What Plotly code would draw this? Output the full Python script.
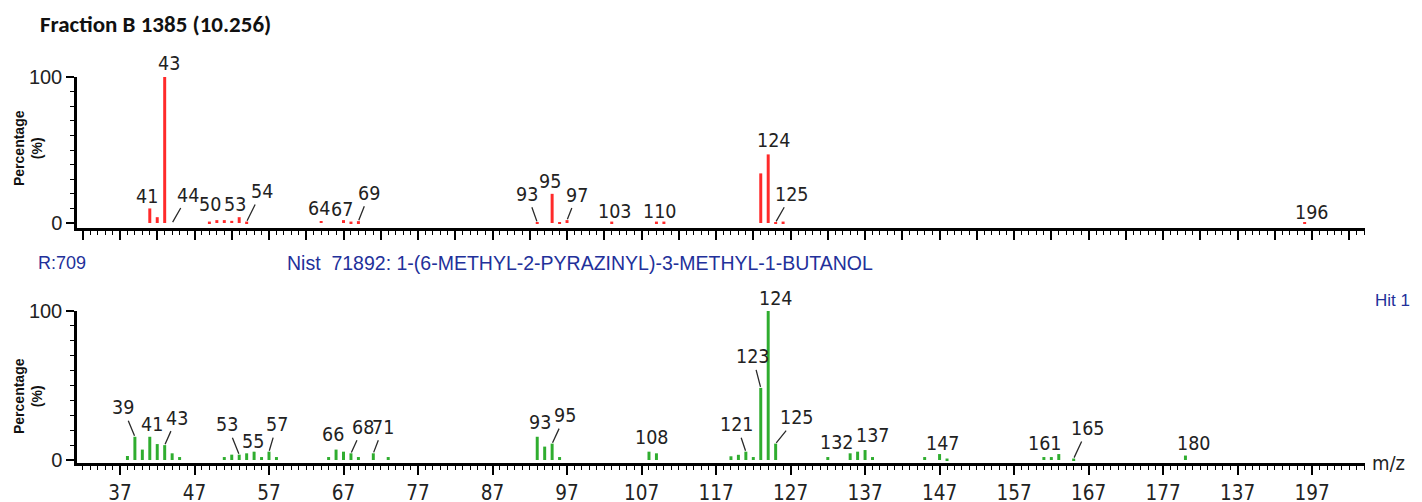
import plotly.graph_objects as go

# ---------------- data ----------------
title_text = "Fraction B 1385 (10.256)"
hit_info = "R:709"
lib_text = "Nist  71892: 1-(6-METHYL-2-PYRAZINYL)-3-METHYL-1-BUTANOL"
hit_text = "Hit 1"

# sample spectrum (top, red)
top_mz = [41, 42, 43, 49, 50, 51, 52, 53, 54, 64, 67, 68, 69, 93, 95, 96, 97,
          103, 109, 110, 123, 124, 125, 126, 196]
top_int = [10, 4, 100, 1, 2, 2, 1.5, 4, 1, 1.4, 2, 1, 1.3, 0.5, 20, 0.7, 2,
           1, 1, 1, 34, 47, 0.5, 1, 0.5]

# library spectrum (bottom, green)
bot_mz = [38, 39, 40, 41, 42, 43, 44, 45, 51, 52, 53, 54, 55, 56, 57, 58,
          65, 66, 67, 68, 69, 71, 73, 93, 94, 95, 96, 108, 109,
          119, 120, 121, 122, 123, 124, 125, 132, 135, 136, 137, 138,
          145, 147, 148, 161, 162, 163, 165, 180]
bot_int = [2.7, 15.6, 7, 15.6, 10.7, 10, 4.5, 2, 2, 3.6, 3.6, 4.5, 5.6, 2, 5.6, 2,
           2, 7, 5.6, 4.5, 2, 4.5, 2, 15.6, 9, 11, 2, 5.6, 4.5,
           2.5, 3.5, 5.6, 2, 48.4, 100, 11, 2, 4.5, 5.6, 6.7, 2,
           2, 4, 1, 2, 2, 4, 1, 3]

# labelled peaks
top_label_mz = [41, 43, 44, 50, 53, 54, 64, 67, 69, 93, 95, 97, 103, 110, 124, 125, 196]
bot_label_mz = [39, 41, 43, 53, 55, 57, 66, 68, 71, 93, 95, 108, 121, 123, 124, 125,
                132, 137, 147, 161, 165, 180]

# x tick labels (bottom axis)
x_tick_vals = list(range(32, 205, 5))
x_tick_text = ["37", "47", "57", "67", "77", "87", "97", "107", "117", "127",
               "137", "147", "157", "167", "177", "137", "197"]

# ---------------- label placement (pixel offsets; style only) ----------------
# (dx, dy, leader)  non-leader: shift of text centre; leader: arrow tail offset
top_label_style = {
    41: (-3, 12, False), 43: (4, 14, False), 44: (16, -28, True),
    50: (-7, 16, False), 53: (-4, 13, False), 54: (15, -30, True),
    64: (-2, 12, False), 67: (-2, 11, False), 69: (11, -28, True),
    93: (-10, -28, True), 95: (-2, 12, False), 97: (10, -25, True),
    103: (3, 10, False), 110: (-4, 10, False), 124: (5, 14, False),
    125: (16, -28, True), 196: (7, 10, False),
}
bot_label_style = {
    39: (-12, -29, True), 41: (2, 12, False), 43: (12, -27, True),
    53: (-12, -30, True), 55: (-1, 10, False), 57: (8, -27, True),
    66: (-3, 15, False), 68: (12, -26, True), 71: (10, -26, True),
    93: (3, 14, False), 95: (13, -28, True), 108: (3, 14, False),
    121: (-9, -27, True), 123: (-8, -31, True), 124: (7, 13, False),
    125: (21, -26, True), 132: (9, 15, False), 137: (7, 15, False),
    147: (3, 11, False), 161: (1, 14, False), 165: (14, -30, True),
    180: (8, 12, False),
}

RED = "#ff2a2a"
GREEN = "#2fad2f"
BLUE = "#22309a"
NARROW = "DejaVu Sans Condensed, Liberation Sans Narrow, Arial Narrow, Liberation Sans"
LABEL_FONT = dict(family=NARROW, size=19.5, color="#222222")
TICK_FONT = dict(family=NARROW, size=20.5, color="#222222")
YTICK_FONT = dict(family="Liberation Sans, Arial", size=20, color="#222222")

X_RANGE = [31.23, 204.1]
W, H = 1422, 502
OFF = 8  # the page body adds an 8 px margin around the figure


def px(p):
    return (p - OFF) / W


def py(p):
    return 1 - (p - OFF) / H


fig = go.Figure()
fig.add_trace(go.Bar(x=top_mz, y=top_int, width=0.4, marker_color=RED,
                     marker_line_width=0, xaxis="x", yaxis="y", showlegend=False))
fig.add_trace(go.Bar(x=bot_mz, y=bot_int, width=0.4, marker_color=GREEN,
                     marker_line_width=0, xaxis="x2", yaxis="y2", showlegend=False))

annotations = []


def add_labels(mzs, ints, label_mz, style, xref, yref):
    lookup = dict(zip(mzs, ints))
    for m in label_mz:
        v = lookup.get(m, 0)
        dx, dy, leader = style[m]
        if leader:
            annotations.append(dict(
                x=m, y=v, xref=xref, yref=yref, text=str(m), showarrow=True,
                arrowhead=0, arrowwidth=1.3, arrowcolor="#2a2a2a", standoff=1,
                ax=dx, ay=dy, font=LABEL_FONT))
        else:
            annotations.append(dict(
                x=m, y=v, xref=xref, yref=yref, text=str(m), showarrow=False,
                xshift=dx, yshift=dy, yanchor="middle", font=LABEL_FONT))


add_labels(top_mz, top_int, top_label_mz, top_label_style, "x", "y")
add_labels(bot_mz, bot_int, bot_label_mz, bot_label_style, "x2", "y2")

# titles and header texts (paper covers the whole figure: margins are 0)
annotations += [
    dict(text="<b>" + title_text + "</b>", xref="paper", yref="paper",
         x=px(38), y=py(24), xanchor="left", yanchor="middle", showarrow=False,
         font=dict(family="Carlito, Lato, Liberation Sans", size=23, color="#111111")),
    dict(text=hit_info, xref="paper", yref="paper", x=px(36), y=py(263),
         xanchor="left", yanchor="middle", showarrow=False,
         font=dict(family="Liberation Sans, Arial", size=18, color=BLUE)),
    dict(text=lib_text, xref="paper", yref="paper", x=px(285), y=py(263),
         xanchor="left", yanchor="middle", showarrow=False,
         font=dict(family="Liberation Sans, Arial", size=19.5, color=BLUE)),
    dict(text=hit_text, xref="paper", yref="paper", x=px(1412), y=py(300),
         xanchor="right", yanchor="middle", showarrow=False,
         font=dict(family="Liberation Sans, Arial", size=17, color=BLUE)),
    dict(text="m/z", xref="x2 domain", yref="y2 domain", x=1.004, y=0.0,
         xanchor="left", yanchor="middle", showarrow=False,
         font=dict(family=NARROW, size=20, color="#222222")),
    dict(text="<b>Percentage<br>(%)</b>", xref="paper", yref="paper",
         x=px(28), y=py(148), textangle=-90, showarrow=False,
         xanchor="center", yanchor="middle",
         font=dict(family="Liberation Sans, Arial", size=14, color="#111111")),
    dict(text="<b>Percentage<br>(%)</b>", xref="paper", yref="paper",
         x=px(28), y=py(396), textangle=-90, showarrow=False,
         xanchor="center", yanchor="middle",
         font=dict(family="Liberation Sans, Arial", size=14, color="#111111")),
]

minor_x = dict(ticks="outside", ticklen=4, tickwidth=1.3, tickcolor="black",
               tickvals=list(range(32, 205)), showgrid=False)
minor_y = dict(ticks="outside", ticklen=4, tickwidth=1.3, tickcolor="black",
               tickvals=list(range(0, 101, 10)), showgrid=False)

x_domain = [px(77), px(1365)]
xaxis_common = dict(range=X_RANGE, domain=x_domain, showgrid=False, zeroline=False,
                    showline=True, linewidth=3, linecolor="black", ticks="outside",
                    ticklen=9, tickwidth=1.6, tickcolor="black", tickmode="array",
                    tickvals=x_tick_vals, minor=minor_x, fixedrange=True,
                    automargin=False)
yaxis_common = dict(showgrid=False, zeroline=False, showline=True, linewidth=2.5,
                    linecolor="black", ticks="outside", ticklen=8, tickwidth=1.6,
                    tickcolor="black", tickmode="array", tickvals=[0, 50, 100],
                    ticktext=["0", "", "100"], tickfont=YTICK_FONT, minor=minor_y,
                    automargin=False)

bottom_ticktext = [t for pair in zip([""] * len(x_tick_text), x_tick_text)
                   for t in pair] + [""]

fig.update_layout(
    width=W, height=H,
    margin=dict(l=0, r=0, t=0, b=0, autoexpand=False),
    paper_bgcolor="white", plot_bgcolor="white",
    showlegend=False, barmode="overlay",
    xaxis=dict(xaxis_common, anchor="y", showticklabels=False),
    yaxis=dict(yaxis_common, anchor="x", domain=[py(228), py(77)],
               range=[-3.4, 100]),
    xaxis2=dict(xaxis_common, anchor="y2", ticktext=bottom_ticktext,
                tickfont=TICK_FONT),
    yaxis2=dict(yaxis_common, anchor="x2", domain=[py(463), py(311)],
                range=[-2, 100]),
    annotations=annotations,
)

fig.write_html("out.html")
